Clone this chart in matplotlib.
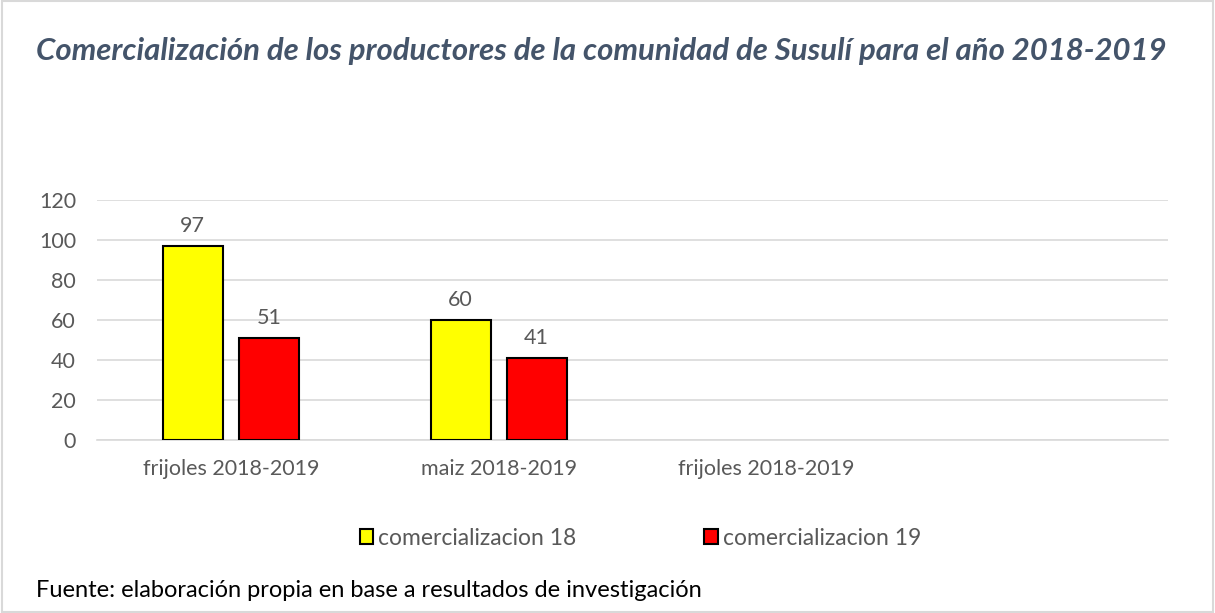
import matplotlib.pyplot as plt
import numpy as np
from matplotlib.patches import Rectangle

# data
categories = ['frijoles 2018-2019', 'maiz 2018-2019', 'frijoles 2018-2019', '']
com_18 = [97, 60, None, None]
com_19 = [51, 41, None, None]
series_names = ['comercializacion 18', 'comercializacion 19']

plt.rcParams['font.family'] = ['Lato', 'DejaVu Sans']

fig = plt.figure(figsize=(12.15, 6.13), dpi=100)
ax = fig.add_axes([0.0798, 0.2822, 0.8815, 0.3915])

x = np.arange(len(categories))
width = 0.224
offset = 0.142
text_color = '#595959'

for vals, dx, color, name in [(com_18, -offset, '#FFFF00', series_names[0]),
                              (com_19, offset, '#FF0000', series_names[1])]:
    xs = [xi + dx for xi, v in zip(x, vals) if v is not None]
    hs = [v for v in vals if v is not None]
    bars = ax.bar(xs, hs, width, color=color, edgecolor='black', linewidth=1.5,
                  label=name, zorder=3)
    for b, h in zip(bars, hs):
        ax.text(b.get_x() + b.get_width() / 2, h + 5, f'{h}', ha='center',
                va='bottom', fontsize=15.5, color=text_color)

ax.set_xlim(-0.5, len(categories) - 0.5)
ax.set_ylim(0, 120)
ax.set_yticks(range(0, 121, 20))
ax.set_xticks(x)
ax.set_xticklabels(categories)
ax.grid(axis='y', color='#D9D9D9', linewidth=1.2, zorder=0)
ax.set_axisbelow(True)
for s in ['top', 'right', 'left']:
    ax.spines[s].set_visible(False)
ax.spines['bottom'].set_color('#D9D9D9')
ax.spines['bottom'].set_linewidth(1.2)
ax.tick_params(axis='both', length=0, labelsize=15.5, labelcolor=text_color)
ax.tick_params(axis='y', pad=15)
ax.tick_params(axis='x', pad=14)

fig.text(0.03, 0.917, 'Comercialización de los productores de la comunidad de Susulí para el año 2018-2019',
         fontsize=22.4, fontweight='bold', fontstyle='italic', color='#44546A', va='center')

fig.legend(loc='center', bbox_to_anchor=(0.527, 0.122), ncol=2, frameon=False,
           fontsize=16.5, labelcolor=text_color, handlelength=0.6, handleheight=0.6,
           handletextpad=0.2, columnspacing=5.6)

fig.text(0.03, 0.036, 'Fuente: elaboración propia en base a resultados de investigación',
         fontsize=17, color='black', va='center')

# chart border
fig.patches.append(Rectangle((0.002, 0.002), 0.996, 0.996, transform=fig.transFigure,
                             fill=False, edgecolor='#D9D9D9', linewidth=1.5))

fig.savefig('out.png', dpi=100)
